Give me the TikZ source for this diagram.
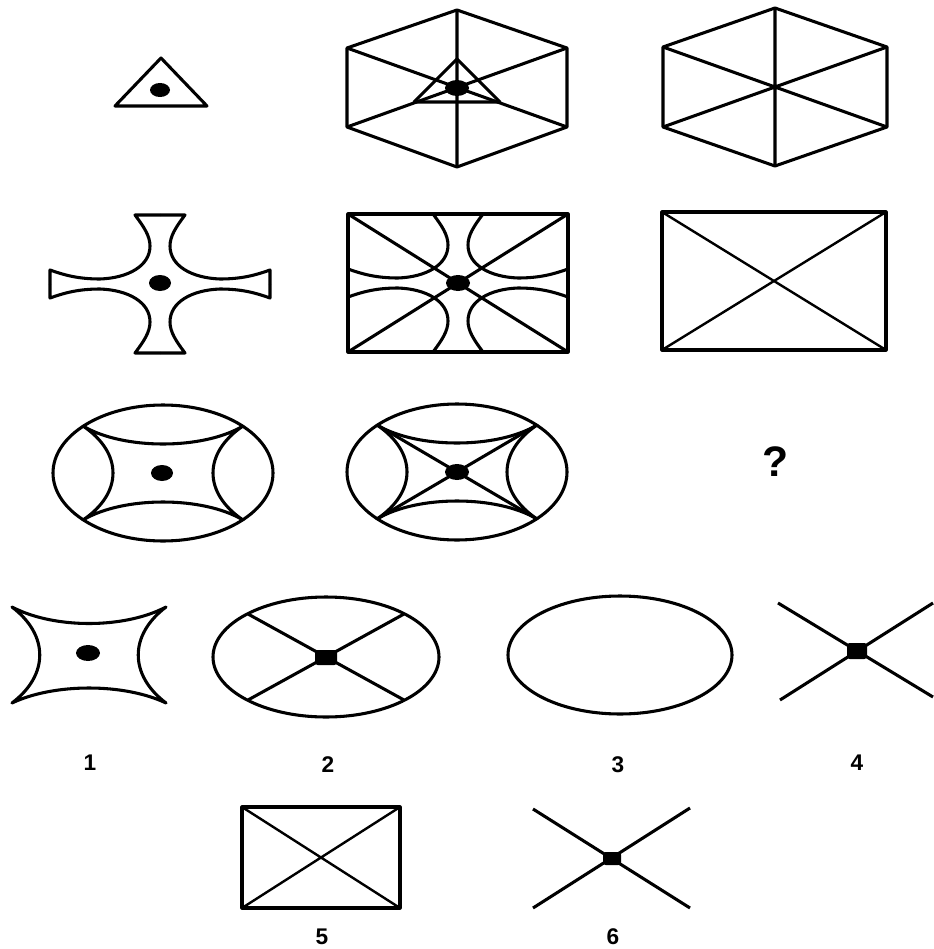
\documentclass[tikz,border=0pt]{standalone}
\usepackage{fontspec}
\setmainfont{Liberation Sans}
\begin{document}
\begin{tikzpicture}[x=0.75pt,y=-0.75pt,line join=round,
  fig/.style={line width=2.3pt},
  thinline/.style={line width=1.8pt},
  lab/.style={font=\fontsize{17}{20}\selectfont\bfseries,inner sep=0pt},
  qmark/.style={font=\fontsize{32}{36}\selectfont\bfseries,inner sep=0pt}]
\useasboundingbox (0,0) rectangle (933,949);

% ---------- row 1 ----------
\draw[fig] (161,58) -- (207,106) -- (115,106) -- cycle;
\fill (160,90) ellipse (10 and 7);

\draw[fig] (457,10) -- (567,48) -- (567,127) -- (457,167) -- (347,127) -- (347,48) -- cycle;
\draw[fig] (457,10) -- (457,167) (347,48) -- (567,127) (567,48) -- (347,127);
\draw[fig] (457,59) -- (500,102) -- (414,102) -- cycle;
\fill (457,88) ellipse (12 and 8);

\draw[fig] (775,8) -- (887,47) -- (887,127) -- (775,166) -- (663,127) -- (663,47) -- cycle;
\draw[fig] (775,8) -- (775,166) (663,47) -- (887,127) (887,47) -- (663,127);

% ---------- row 2 ----------
\begin{scope}[shift={(160,284)}]
  \foreach \sx/\sy in {1/1,-1/1,1/-1,-1/-1}{
    \draw[fig,xscale=\sx,yscale=\sy] (0,-69) -- (-25,-69)
      .. controls (-16,-57) and (-10,-48) .. (-10,-38)
      .. controls (-10,-18) and (-32,-6) .. (-60,-5)
      .. controls (-82,-5) and (-96,-9) .. (-110,-14) -- (-110,0);
  }
  \fill (0,-1) ellipse (11 and 8);
\end{scope}

\begin{scope}[shift={(458,283)}]
  \draw[fig] (-110,-69) rectangle (110,69);
  \draw[fig] (-110,-69) -- (110,69) (110,-69) -- (-110,69);
  \foreach \sx/\sy in {1/1,-1/1,1/-1,-1/-1}{
    \draw[fig,xscale=\sx,yscale=\sy] (-25,-69)
      .. controls (-16,-57) and (-10,-48) .. (-10,-38)
      .. controls (-10,-18) and (-32,-6) .. (-60,-5)
      .. controls (-82,-5) and (-96,-9) .. (-110,-14);
  }
  \fill (0,0) ellipse (12 and 8);
\end{scope}

\draw[fig] (662,212) rectangle (886,350);
\draw[thinline] (662,212) -- (886,350) (886,212) -- (662,350);

% ---------- row 3 ----------
\begin{scope}[shift={(163,473)}]
  \draw[fig] (0,0) ellipse (110 and 68);
  \draw[fig] (-80,-47) .. controls (-40,-23) and (40,-23) .. (80,-47)
    .. controls (40,-20) and (40,20) .. (80,47)
    .. controls (40,23) and (-40,23) .. (-80,47)
    .. controls (-40,20) and (-40,-20) .. cycle;
  \fill (-1,0) ellipse (11 and 8);
\end{scope}

\begin{scope}[shift={(457,472)}]
  \draw[fig] (0,0) ellipse (110 and 68);
  \draw[fig] (-80,-47) .. controls (-40,-23) and (40,-23) .. (80,-47)
    .. controls (40,-20) and (40,20) .. (80,47)
    .. controls (40,23) and (-40,23) .. (-80,47)
    .. controls (-40,20) and (-40,-20) .. cycle;
  \draw[fig] (-80,-47) -- (80,47) (80,-47) -- (-80,47);
  \fill (0,0) ellipse (12 and 8);
\end{scope}

\node[qmark] (q) at (776,462) {?};

% ---------- answer options ----------
\begin{scope}[shift={(89,655)}]
  \draw[fig] (-77,-48) .. controls (-35,-26) and (35,-26) .. (77,-48)
    .. controls (40,-20) and (40,20) .. (77,48)
    .. controls (35,28) and (-35,28) .. (-77,48)
    .. controls (-40,20) and (-40,-20) .. cycle;
  \fill (-1,-2) ellipse (12 and 8);
\end{scope}
\node[lab] (l1) at (90,763) {1};

\draw[fig] (326,657) ellipse (113 and 60);
\draw[fig] (248,614) -- (404,700) (404,614) -- (248,700);
\fill[rounded corners=2pt] (315,650) rectangle (337,665);
\node[lab] (l2) at (328,765) {2};

\draw[fig] (620,655) ellipse (112 and 59);
\node[lab] (l3) at (618,765) {3};

\draw[fig] (778,603) -- (933,697) (780,700) -- (933,603);
\fill[rounded corners=2pt] (847,643) rectangle (867,659);
\node[lab] (l4) at (857,763) {4};

\draw[fig] (242,807) rectangle (400,908);
\draw[thinline] (242,807) -- (400,908) (400,807) -- (242,908);
\node[lab] (l5) at (322,937) {5};

\draw[fig] (533,809) -- (690,908) (533,908) -- (690,808);
\fill[rounded corners=2pt] (603,852) rectangle (621,865);
\node[lab] (l6) at (613,937) {6};
\end{tikzpicture}
\end{document}
